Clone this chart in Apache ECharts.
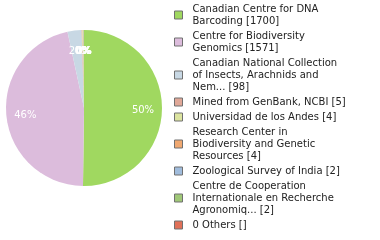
<!DOCTYPE html>
<html><head><meta charset="utf-8">
<script src="https://cdn.jsdelivr.net/npm/echarts@6/dist/echarts.min.js"></script>
<style>html,body{margin:0;padding:0;background:#fff}#c{width:380px;height:240px}</style>
</head><body><div id="c"></div>
<script>
var names = [
  "Canadian Centre for DNA\nBarcoding [1700]",
  "Centre for Biodiversity\nGenomics [1571]",
  "Canadian National Collection\nof Insects, Arachnids and\nNem... [98]",
  "Mined from GenBank, NCBI [5]",
  "Universidad de los Andes [4]",
  "Research Center in\nBiodiversity and Genetic\nResources [4]",
  "Zoological Survey of India [2]",
  "Centre de Cooperation\nInternationale en Recherche\nAgronomiq... [2]",
  "0 Others []"
];
var values = [1700, 1571, 98, 5, 4, 4, 2, 2, 0];
var colors = ["#a0d860", "#dcbcdc", "#c8d8e4", "#e0a898", "#dce4a0", "#f0a870", "#a0bcdc", "#a0c878", "#e07058"];
var total = values.reduce(function(a,b){return a+b;},0);

var mainData = names.map(function(n,i){return {name:n, value:values[i], itemStyle:{color:colors[i]}};});
var labelData = names.map(function(n,i){return {name:n, value:values[i]};});

var chart = echarts.init(document.getElementById('c'), null, {renderer:'canvas'});
chart.setOption({
  animation:false,
  legend:{
    orient:'vertical', left:174, top:3, padding:0, height:260,
    itemWidth:8, itemHeight:8, itemGap:3,
    icon:'rect',
    textStyle:{fontFamily:'DejaVu Sans', fontSize:10, color:'#222', lineHeight:12, padding:[0,0,0,5]},
    data: names.map(function(n,i){return {name:n, itemStyle:{color:colors[i], borderColor:'#707070', borderWidth:1}};})
  },
  series:[
    {type:'pie', radius:[0,78], center:[84,108], startAngle:90, clockwise:true,
     label:{show:false}, labelLine:{show:false}, data:mainData, silent:true},
    {type:'pie', radius:[34,78], center:[84,108], startAngle:90, clockwise:true, silent:true,
     avoidLabelOverlap:false, minShowLabelAngle:0, labelLayout:{hideOverlap:false},
     itemStyle:{color:'rgba(0,0,0,0)'}, labelLine:{show:false},
     label:{show:true, position:'inside', color:'#fff', fontFamily:'DejaVu Sans', fontSize:10,
       offset:[0,2],
       formatter:function(p){return Math.floor(p.value/total*100)+'%';}},
     data:labelData}
  ]
});
</script></body></html>
